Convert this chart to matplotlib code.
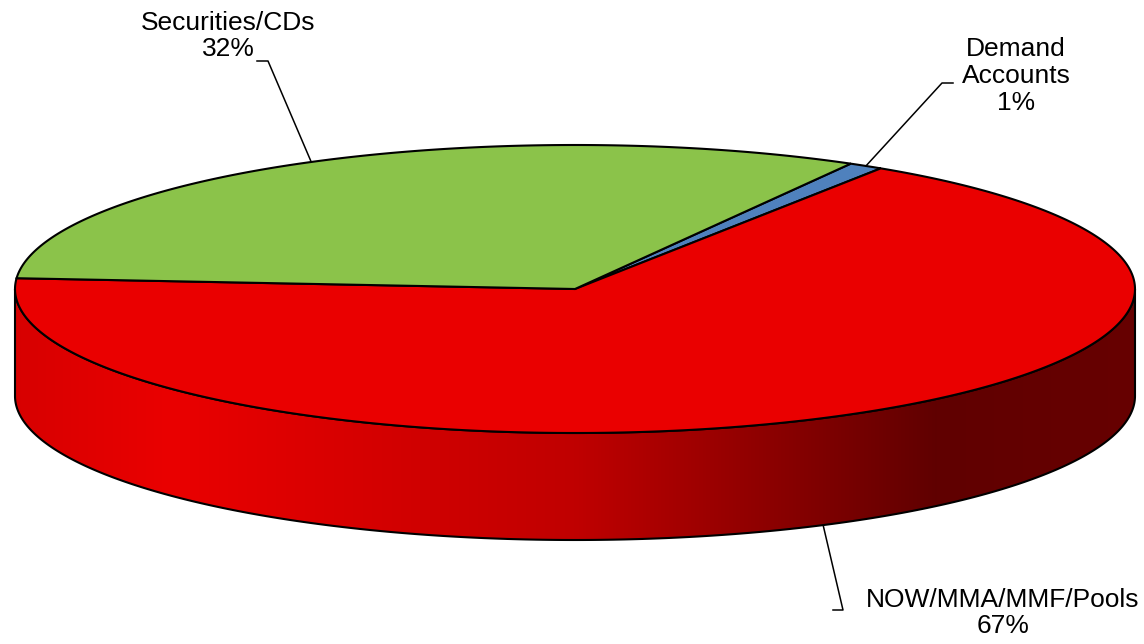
import numpy as np
import matplotlib.pyplot as plt
from matplotlib.patches import Polygon

plt.rcParams['font.family'] = ['Liberation Sans', 'DejaVu Sans']

# slices, in clockwise order starting at the top right
labels = ["Demand\nAccounts", "NOW/MMA/MMF/Pools", "Securities/CDs"]
shares = [1, 67, 32]
colors = ["#4f81bd", "#ea0000", "#8bc34a"]

# where each label block sits, and the elbow of its leader line
label_xy = [(1016, 76), (1003, 613), (228, 36)]
elbows = [[(953, 83), (942, 83)], [(833, 610), (843, 610)], [(257, 61), (268, 61)]]

# pie geometry in pixels
cx, cy = 575, 289
a, b = 560, 144
depth = 107
start = 60.5

# side shading: brightness along x
shade_x = [0, 15, 170, 575, 935, 1135, 1144]
shade_f = [0.92, 0.92, 1.0, 0.82, 0.41, 0.44, 0.44]


def rim(t, drop=0):
    t = np.radians(t)
    return np.column_stack([cx + a * np.cos(t), cy - b * np.sin(t) + drop])


def front_parts(t_lo, t_hi):
    # pieces of [t_lo, t_hi] that lie on the front half of the pie
    parts = []
    for k in (-720, -360, 0, 360):
        lo, hi = max(t_lo, 180 + k), min(t_hi, 360 + k)
        if hi > lo:
            parts.append((lo, hi))
    return parts


fig = plt.figure(figsize=(11.44, 6.44), dpi=100)
ax = fig.add_axes([0, 0, 1, 1])
ax.set_xlim(0, 1144)
ax.set_ylim(644, 0)
ax.axis('off')

fracs = np.array(shares) / sum(shares)
edges = start - np.concatenate([[0], np.cumsum(fracs)]) * 360

# walls first
xs = np.arange(1144)
shade = np.interp(xs, shade_x, shade_f)
for i, c in enumerate(colors):
    t_hi, t_lo = edges[i], edges[i + 1]
    for lo, hi in front_parts(t_lo, t_hi):
        tt = np.linspace(lo, hi, 300)
        pts = np.vstack([rim(tt), rim(tt[::-1], depth)])
        wall = Polygon(pts, closed=True, facecolor='none', edgecolor='black',
                       lw=1.5, zorder=3)
        ax.add_patch(wall)
        rgb = np.array(plt.matplotlib.colors.to_rgb(c))
        img = np.clip(shade[None, :, None] * rgb[None, None, :], 0, 1)
        im = ax.imshow(img, extent=(0, 1144, 644, 0), aspect='auto', zorder=2,
                       interpolation='bilinear')
        im.set_clip_path(wall)

# top faces
for i, c in enumerate(colors):
    tt = np.linspace(edges[i], edges[i + 1], 400)
    pts = np.vstack([[cx, cy], rim(tt)])
    ax.add_patch(Polygon(pts, closed=True, facecolor=c, edgecolor='black',
                         lw=1.5, joinstyle='miter', zorder=4))

# labels and leader lines
for i, lab in enumerate(labels):
    mid = (edges[i] + edges[i + 1]) / 2
    if np.sin(np.radians(mid)) < 0:
        anchor = rim([mid], depth)[0]
    else:
        anchor = rim([mid])[0]
    path = np.array(elbows[i] + [tuple(anchor)])
    ax.plot(path[:, 0], path[:, 1], color='black', lw=1.1, zorder=5)
    ax.text(label_xy[i][0], label_xy[i][1], f"{lab}\n{shares[i]}%",
            ha='center', va='center', multialignment='center',
            fontsize=19, color='black', linespacing=1.15, zorder=6)

fig.savefig('out.png', dpi=100)
